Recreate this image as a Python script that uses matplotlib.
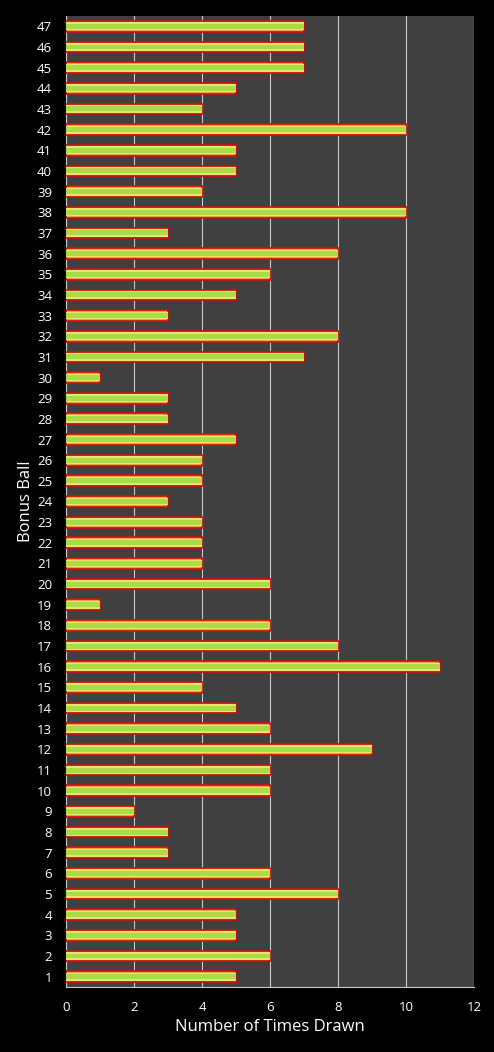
import matplotlib
matplotlib.use('Agg')
import matplotlib.pyplot as plt

# Bonus ball numbers and how often each was drawn
balls = list(range(1, 48))
counts = [5, 6, 5, 5, 8, 6, 3, 3, 2, 6,
          6, 9, 6, 5, 4, 11, 8, 6, 1, 6,
          4, 4, 4, 3, 4, 4, 5, 3, 3, 1,
          7, 8, 3, 5, 6, 8, 3, 10, 4, 5,
          5, 10, 4, 5, 7, 7, 7]

plt.rcParams['font.family'] = ['Open Sans', 'DejaVu Sans']

fig = plt.figure(figsize=(4.94, 10.52), dpi=100, facecolor='black')
ax = fig.add_axes([0.1336, 0.0618, 0.826, 0.923])
ax.set_facecolor('#404040')

# layered bars to fake the red/yellow/green gradient
ax.barh(balls, counts, height=0.52, color='#f0a040', edgecolor='#c81010', linewidth=1.2, zorder=3)
ax.barh(balls, counts, height=0.38, color='#ece468', linewidth=0, zorder=4)
ax.barh(balls, counts, height=0.24, color='#a8dc48', linewidth=0, zorder=5)

ax.set_xlim(0, 12)
ax.set_ylim(0.5, 47.5)
ax.set_xticks(range(0, 13, 2))
ax.set_yticks(balls)
ax.grid(axis='x', color='#c8c8c8', linewidth=0.8, zorder=1)
ax.tick_params(colors='white', labelsize=9.5, length=0)
ax.tick_params(axis='y', pad=10)
ax.tick_params(axis='x', pad=10)
for s in ax.spines.values():
    s.set_visible(False)
ax.spines['left'].set_visible(True)
ax.spines['left'].set_color('#c8c8c8')
ax.spines['bottom'].set_visible(True)
ax.spines['bottom'].set_color('#c8c8c8')

ax.set_xlabel('Number of Times Drawn', color='white', fontsize=12, labelpad=4)
ax.set_ylabel('Bonus Ball', color='white', fontsize=12, labelpad=2)

fig.savefig('out.png', dpi=100, facecolor='black')
